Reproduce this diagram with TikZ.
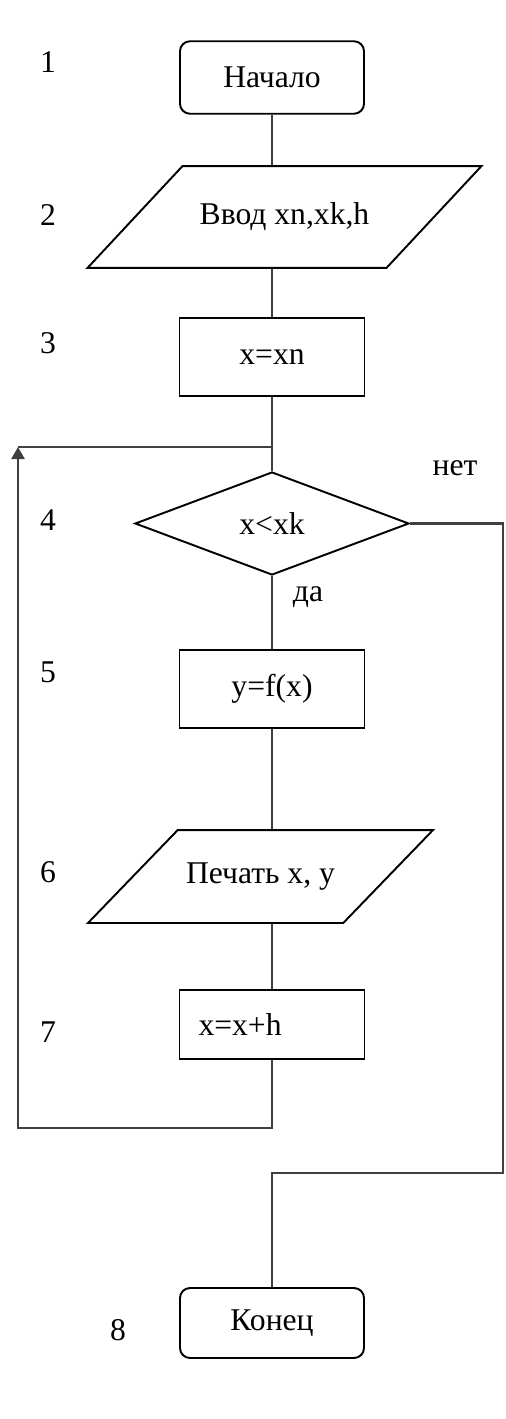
\documentclass[tikz,border=0pt]{standalone}
\usepackage{fontspec}
\setmainfont{Liberation Serif}
\usetikzlibrary{arrows.meta,positioning,shapes.geometric}

\begin{document}
\begin{tikzpicture}[
  font=\fontsize{18}{20}\selectfont,
  shp/.style={draw, line width=1.1pt, align=center, inner sep=2pt},
  term/.style={shp, rounded corners=2mm, minimum width=3.68cm, minimum height=1.45cm},
  proc/.style={shp, minimum width=3.70cm, minimum height=1.56cm},
  io/.style={shp, trapezium, trapezium stretches body, text height=12pt, text depth=4pt,
             trapezium left angle=47, trapezium right angle=133},
  cnd/.style={shp, diamond, aspect=2.66, inner sep=0pt,
              minimum width=5.48cm, minimum height=2.06cm},
  num/.style={inner sep=0pt},
  line/.style={draw=black!75, line width=1.4pt},
  arr/.style={line, -{Triangle[length=2.4mm, width=2.6mm]}}
]
\useasboundingbox (0,0) rectangle (10.1,-28.38);

% blocks
\node[term] (start) at (5.44,-1.55)  {Начало};
\node[io, inner ysep=0.738cm, minimum width=7.88cm] (inp) at (5.69,-4.34) {Ввод xn,xk,h};
\node[proc] (init) at (5.44,-7.14)   {x=xn};
\node[cnd]  (cond) at (5.44,-10.47)  {x<xk};
\node[proc] (calc) at (5.44,-13.78)  {y=f(x)};
\node[io, trapezium left angle=46, trapezium right angle=134,
      inner ysep=0.648cm, minimum width=6.90cm] (out) at (5.21,-17.53) {Печать x, y};
\node[proc, minimum height=1.38cm, text width=2.94cm, inner xsep=0.38cm,
      align=left] (incr) at (5.44,-20.49) {x=x+h};
\node[term, minimum height=1.40cm] (stop) at (5.44,-26.46) {Конец};

% step numbers
\node[num] (n1) at (0.96,-1.24)  {1};
\node[num] (n2) at (0.96,-4.30)  {2};
\node[num] (n3) at (0.96,-6.86)  {3};
\node[num] (n4) at (0.96,-10.40) {4};
\node[num] (n5) at (0.96,-13.44) {5};
\node[num] (n6) at (0.96,-17.44) {6};
\node[num] (n7) at (0.96,-20.64) {7};
\node[num] (n8) at (2.36,-26.60) {8};

% branch labels
\node[num] (no)  at (9.10,-9.36)  {нет};
\node[num] (yes) at (6.16,-11.94) {да};

% turning points
\coordinate (join) at (5.44,-8.94);
\coordinate (lt) at (0.36,-8.94);
\coordinate (lb) at (0.36,-22.56);
\coordinate (rt) at (10.06,-10.47);
\coordinate (rb) at (10.06,-23.46);

\draw[line] (start) -- (start |- inp.north);
\draw[line] (inp.south -| init) -- (init);
\draw[line] (init) -- (cond);
\draw[line] (cond) -- (calc);
\draw[line] (calc) -- (calc |- out.north);
\draw[line] (out.south -| incr) -- (incr);
\draw[arr] (incr.south) |- (lb) -- (lt);
\draw[line] (lt) -- (join);
\draw[line] (cond.east) -- (rt) -- (rb) -| (stop.north);
\end{tikzpicture}
\end{document}
